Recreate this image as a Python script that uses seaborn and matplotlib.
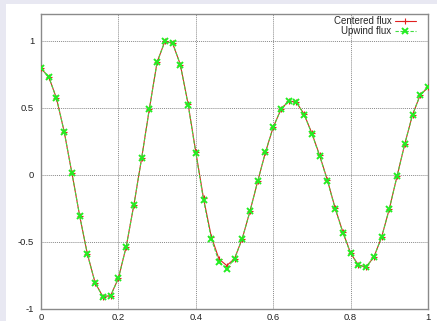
import numpy as np
import pandas as pd
import seaborn as sns
import matplotlib
matplotlib.use("Agg")
import matplotlib.pyplot as plt
from matplotlib.patches import Rectangle

x_vals = [0.00, 0.02, 0.04, 0.06, 0.08, 0.10, 0.12, 0.14, 0.16, 0.18,
          0.20, 0.22, 0.24, 0.26, 0.28, 0.30, 0.32, 0.34, 0.36, 0.38,
          0.40, 0.42, 0.44, 0.46, 0.48, 0.50, 0.52, 0.54, 0.56, 0.58,
          0.60, 0.62, 0.64, 0.66, 0.68, 0.70, 0.72, 0.74, 0.76, 0.78,
          0.80, 0.82, 0.84, 0.86, 0.88, 0.90, 0.92, 0.94, 0.96, 0.98, 1.00]

upwind = [0.794, 0.731, 0.572, 0.321, 0.012, -0.306, -0.592, -0.806, -0.908, -0.900,
          -0.771, -0.537, -0.224, 0.124, 0.493, 0.841, 0.995, 0.983, 0.823, 0.525,
          0.164, -0.189, -0.475, -0.650, -0.698, -0.627, -0.475, -0.271, -0.047, 0.169,
          0.356, 0.488, 0.552, 0.542, 0.450, 0.306, 0.142, -0.042, -0.251, -0.430,
          -0.585, -0.674, -0.687, -0.614, -0.465, -0.254, -0.010, 0.231, 0.448, 0.597, 0.652]

centered = [0.794, 0.731, 0.572, 0.321, 0.012, -0.306, -0.592, -0.806, -0.908, -0.900,
            -0.771, -0.537, -0.224, 0.124, 0.493, 0.841, 0.995, 0.983, 0.823, 0.530,
            0.172, -0.175, -0.460, -0.628, -0.676, -0.625, -0.475, -0.271, -0.047, 0.169,
            0.356, 0.488, 0.552, 0.542, 0.452, 0.310, 0.146, -0.038, -0.247, -0.426,
            -0.583, -0.672, -0.686, -0.614, -0.465, -0.254, -0.010, 0.231, 0.448, 0.597, 0.652]

x_ticks = [0, 0.2, 0.4, 0.6, 0.8, 1.0]
x_labels = ["0", "0.2", "0.4", "0.6", "0.8", "1"]
y_ticks = [-1, -0.5, 0, 0.5, 1]
y_labels = ["-1", "-0.5", "0", "0.5", "1"]

sns.set_style("white")
plt.rcParams['font.family'] = ['Liberation Sans', 'DejaVu Sans']

W, H = 437, 321
fig = plt.figure(figsize=(W / 100, H / 100), dpi=100)
fig.patch.set_facecolor("#e8e8f2")
bg = Rectangle((6 / W, 0), 1 - 6 / W, 1 - 4 / H,
               transform=fig.transFigure, facecolor="white",
               edgecolor="none", zorder=-10)
fig.patches.append(bg)

ax = fig.add_axes([41 / W, 1 - 309 / H, (428 - 41) / W, (309 - 14) / H])
ax.set_facecolor("white")

df = pd.DataFrame({"x": x_vals, "centered": centered, "upwind": upwind})

sns.lineplot(data=df, x="x", y="centered", ax=ax, color="#e02020", lw=0.8,
             marker="+", markersize=5, markeredgewidth=0.8,
             markeredgecolor="#e02020",
             label="Centered flux", zorder=3)
sns.lineplot(data=df, x="x", y="upwind", ax=ax, color="#40dd40", lw=0.8,
             linestyle=(0, (3, 1.5)),
             marker="x", markersize=4.5, markeredgewidth=1.4,
             markeredgecolor="#22ee22", label="Upwind flux", zorder=4)

ax.set_xlim(0, 1)
ax.set_ylim(-1, 1.2)
ax.set_xticks(x_ticks)
ax.set_xticklabels(x_labels)
ax.set_yticks(y_ticks)
ax.set_yticklabels(y_labels)
ax.set_xlabel("")
ax.set_ylabel("")
ax.tick_params(labelsize=6.8, length=0, pad=5,
               colors="#222222")
ax.tick_params(axis="x", pad=3)

ax.grid(True, color="#8a8a8a", linestyle=(0, (1, 1)), linewidth=0.7)
for s in ax.spines.values():
    s.set_color("#8a8a8a")
    s.set_linewidth(1.0)

leg = ax.legend(loc="upper right", frameon=False, fontsize=7, markerfirst=False,
                handlelength=2.2, handletextpad=0.35, labelspacing=0.05,
                borderaxespad=0.1, borderpad=0.1,
                bbox_to_anchor=(1 - 10 / 387, 1.0))

fig.savefig("out.png", dpi=100, facecolor=fig.get_facecolor())
